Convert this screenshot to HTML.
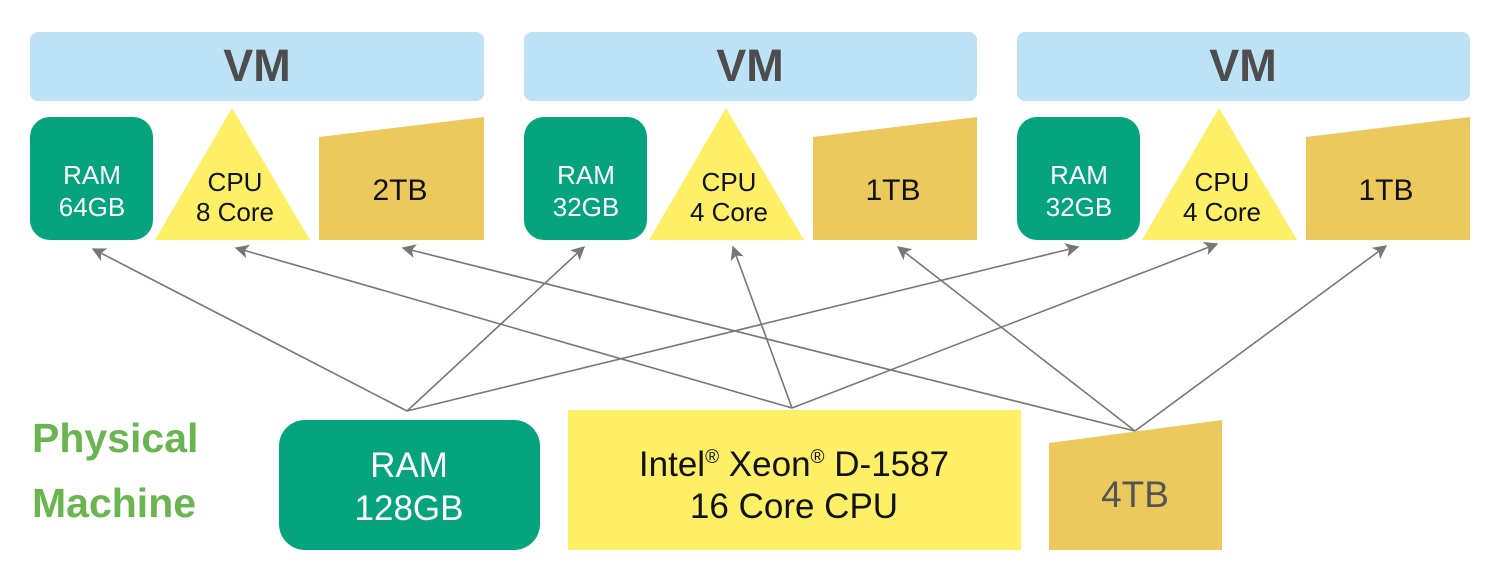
<!DOCTYPE html>
<html><head><meta charset="utf-8"><style>
html,body{margin:0;padding:0;background:#fff;}
svg{display:block;}
text{font-family:"Liberation Sans",Arial,sans-serif;}
</style></head><body>
<svg width="1500" height="573" viewBox="0 0 1500 573" xmlns="http://www.w3.org/2000/svg">
<defs>
<marker id="ah" viewBox="0 0 10 10" refX="9" refY="5" markerWidth="14" markerHeight="14" markerUnits="userSpaceOnUse" orient="auto">
<path d="M0,0 L10,5 L0,10 L2.5,5 z" fill="#777"/>
</marker>
</defs>
<g fill="#bde2f5">
<rect x="30" y="32" width="454" height="69" rx="8"/>
<rect x="524" y="32" width="453" height="69" rx="8"/>
<rect x="1017" y="32" width="453" height="69" rx="8"/>
</g>
<g font-size="45" font-weight="bold" fill="#4d4d4d" text-anchor="middle">
<text x="257" y="81">VM</text>
<text x="750" y="81">VM</text>
<text x="1243" y="81">VM</text>
</g>
<g>
<rect x="30" y="117" width="123" height="123" rx="20" fill="#05a37e"/>
<polygon points="232,108 310,240 155,240" fill="#fdf066"/>
<polygon points="319,137 484,117 484,240 319,240" fill="#ecc95c"/>
<rect x="524" y="117" width="123" height="123" rx="20" fill="#05a37e"/>
<polygon points="726,108 804,240 649,240" fill="#fdf066"/>
<polygon points="813,137 977,117 977,240 813,240" fill="#ecc95c"/>
<rect x="1017" y="117" width="123" height="123" rx="20" fill="#05a37e"/>
<polygon points="1219,108 1297,240 1142,240" fill="#fdf066"/>
<polygon points="1306,137 1470,117 1470,240 1306,240" fill="#ecc95c"/>
</g>
<g font-size="26" text-anchor="middle">
<text x="92" y="184" fill="#fff">RAM</text><text x="92" y="216" fill="#fff">64GB</text>
<text x="235" y="191" fill="#111">CPU</text><text x="235" y="221" fill="#111">8 Core</text>
<text x="400" y="200" fill="#111" font-size="30">2TB</text>
<text x="586" y="184" fill="#fff">RAM</text><text x="586" y="216" fill="#fff">32GB</text>
<text x="729" y="191" fill="#111">CPU</text><text x="729" y="221" fill="#111">4 Core</text>
<text x="893" y="200" fill="#111" font-size="30">1TB</text>
<text x="1079" y="184" fill="#fff">RAM</text><text x="1079" y="216" fill="#fff">32GB</text>
<text x="1222" y="191" fill="#111">CPU</text><text x="1222" y="221" fill="#111">4 Core</text>
<text x="1386" y="200" fill="#111" font-size="30">1TB</text>
</g>
<g stroke="#777" stroke-width="1.6" fill="none" marker-end="url(#ah)">
<line x1="407" y1="411" x2="93" y2="249"/>
<line x1="407" y1="411" x2="584" y2="247"/>
<line x1="407" y1="411" x2="1078" y2="247"/>
<line x1="792" y1="408" x2="236" y2="248"/>
<line x1="792" y1="408" x2="733" y2="247"/>
<line x1="792" y1="408" x2="1217" y2="244"/>
<line x1="1135" y1="431" x2="403" y2="248"/>
<line x1="1135" y1="431" x2="898" y2="247"/>
<line x1="1135" y1="431" x2="1386" y2="246"/>
</g>
<g font-size="41" font-weight="bold" fill="#6ab54f">
<text x="32" y="452">Physical</text>
<text x="32" y="517">Machine</text>
</g>
<rect x="279" y="420" width="261" height="130" rx="26" fill="#05a37e"/>
<rect x="568" y="410" width="453" height="140" fill="#fdf066"/>
<polygon points="1049,443 1222,420 1222,550 1049,550" fill="#ecc95c"/>
<g text-anchor="middle" font-size="35">
<text x="409" y="477" fill="#fff">RAM</text>
<text x="409" y="520" fill="#fff">128GB</text>
<text x="794" y="476" fill="#111">Intel<tspan font-size="19" dy="-13">®</tspan><tspan dy="13"> Xeon</tspan><tspan font-size="19" dy="-13">®</tspan><tspan dy="13"> D-1587</tspan></text>
<text x="794" y="518" fill="#111">16 Core CPU</text>
<text x="1135" y="507" fill="#555" font-size="37">4TB</text>
</g>
</svg>
</body></html>
